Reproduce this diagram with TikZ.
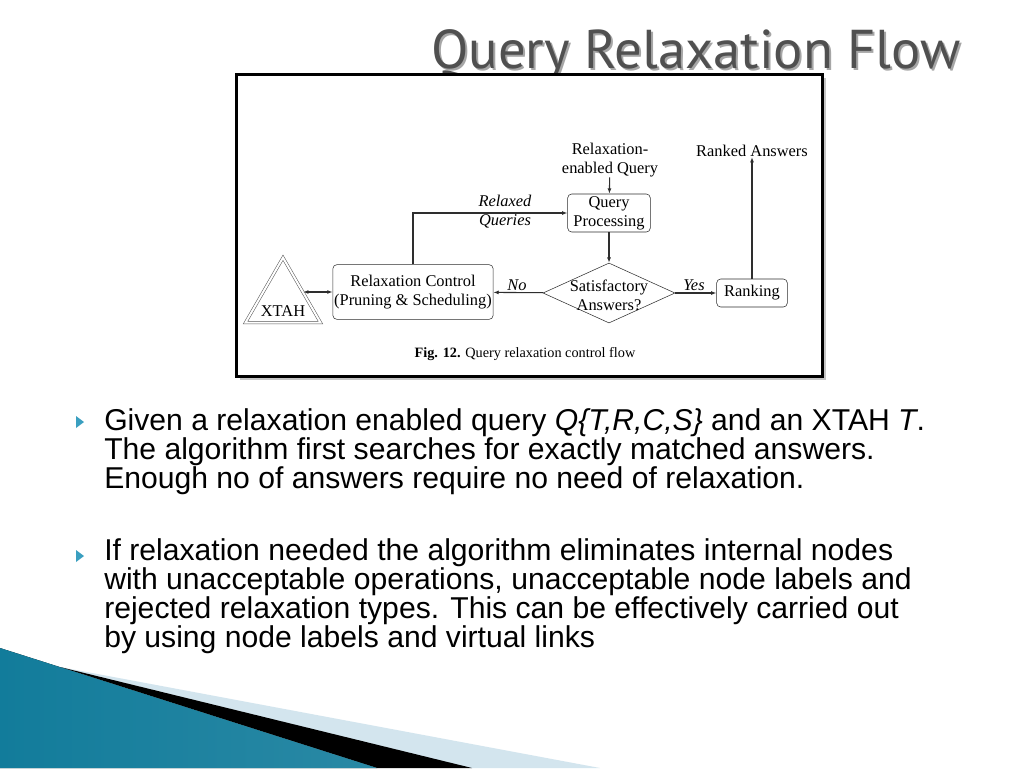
\documentclass[tikz,border=0pt]{standalone}
\usepackage{fontspec}
\setmainfont{Liberation Serif}
\setsansfont{Liberation Sans}
\newfontfamily\titlefont{PT Sans}
\usetikzlibrary{shapes.geometric, arrows.meta, positioning, calc, shadows}

\definecolor{slidegray}{HTML}{505050}
\definecolor{bulletteal}{HTML}{3A9FC0}
\definecolor{tealdark}{HTML}{127C9B}
\definecolor{teallight}{HTML}{5BC0DE}
\definecolor{palesky}{HTML}{D3E5EE}
\definecolor{lineink}{HTML}{2E2E2E}

\newcommand{\figfont}{\fontsize{12.3}{14.3}\selectfont}

\begin{document}
\begin{tikzpicture}[x=0.75pt, y=-0.75pt,
        box/.style = {draw=lineink, rounded corners=3pt, align=center, font=\figfont, inner sep=1pt},
        decision/.style = {diamond, draw=lineink, inner sep=0pt, minimum width=99pt, minimum height=45pt, font=\figfont},
        plain label/.style = {align=center, font=\figfont, inner sep=0pt},
        arrow/.style = {-{Latex[length=4pt, width=3pt]}, line width=0.8pt, draw=lineink},
        both arrow/.style = {{Latex[length=4pt, width=3pt]}-{Latex[length=4pt, width=3pt]}, line width=0.8pt, draw=lineink},
        bullet text/.style = {anchor=north west, align=left, inner sep=0pt, font=\sffamily\fontsize{22.6}{21.9}\selectfont}
    ]

    \useasboundingbox (0,0) rectangle (1024,768);
    \fill[white] (0,0) rectangle (1024,768);

    % Corner swoosh
    \fill[palesky] (60,667) -- (600,768) -- (470,768) -- cycle;
    \fill[black] (60,667) -- (472,768) -- (377,768) -- cycle;
    \fill[left color=tealdark, middle color=teallight, right color=tealdark!90] (0,648) -- (377,768) -- (0,768) -- cycle;

    % Title
    \node (titleshadow) [text=black!35, font=\titlefont\fontsize{41}{43}\selectfont] at (698,57) {Query Relaxation Flow};
    \node (title) [text=slidegray, font=\titlefont\fontsize{41}{43}\selectfont] at (696,55) {Query Relaxation Flow};

    % Figure frame
    \node (frame) [draw=black, line width=2.25pt, fill=white, minimum width=439.5pt, minimum height=226.5pt,
        drop shadow={shadow xshift=3pt, shadow yshift=-3pt, fill=black!45}] at (529,225) {};

    % Nodes
    \node (query) [plain label] at (610,160) {Relaxation-\\enabled Query};
    \node (process) [box, minimum width=62pt, minimum height=28.5pt] at (609,213) {Query\\Processing};
    \node (satisfy) [decision] at (609,293) {\smash{\makebox[0pt]{\raisebox{-6pt}{\begin{tabular}{@{}c@{}}Satisfactory\\Answers?\end{tabular}}}}};
    \node (control) [box, minimum width=118pt, minimum height=41pt] at (413,292) {Relaxation Control\\(Pruning \& Scheduling)};
    \node (ranking) [box, minimum width=53pt, minimum height=21pt] at (752,293) {Ranking};
    \node (ranked) [plain label] at (752,151) {Ranked Answers};
    \node (xtah) [regular polygon, regular polygon sides=3, minimum size=65pt, inner sep=0pt,
        draw=lineink!80, double, double distance=1.5pt, line width=0.4pt,
        label={[font=\figfont, yshift=-7.5pt]center:XTAH}] at (283,301) {};
    \node (relaxed) [plain label, font=\figfont\itshape] at (505,212) {Relaxed\\Queries};
    \node (nolabel) [plain label, font=\figfont\itshape] at (517,285) {No};
    \node (yeslabel) [plain label, font=\figfont\itshape] at (694,285) {Yes};
    \node (caption) [plain label, font=\fontsize{10.7}{12}\selectfont] at (525,354) {\textbf{Fig. 12.} Query relaxation control flow};

    % Arrows
    \coordinate (xtahside) at ($(xtah.corner 1)!0.53!(xtah.corner 3)$);
    \draw[both arrow] (xtahside |- control.west) -- (control.west);
    \draw[arrow] (query) -- (process);
    \draw[arrow] (process) -- (satisfy);
    \draw[arrow] (satisfy) -- (control);
    \draw[arrow] (satisfy) -- (ranking);
    \draw[arrow] (ranking) -- (ranked);
    \draw[arrow] (control.north) |- (process.west);

    % Bullets
    \foreach \by in {422, 556}
        \fill[bulletteal] (76,\by-6) -- (84,\by) -- (76,\by+6) -- cycle;
    \node (first) [bullet text] at (104,408) {Given a relaxation enabled query \textit{Q\{T,R,C,S\}} and an XTAH \textit{T}.\\The algorithm first searches for exactly matched answers.\\Enough no of answers require no need of relaxation.};
    \node (second) [bullet text] at (104,538) {If relaxation needed the algorithm eliminates internal nodes\\with unacceptable operations, unacceptable node labels and\\rejected relaxation types. This can be effectively carried out\\by using node labels and virtual links};

\end{tikzpicture}
\end{document}
